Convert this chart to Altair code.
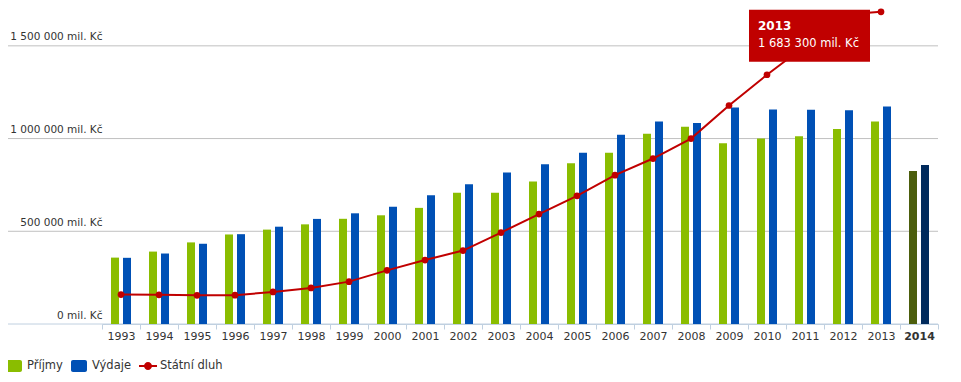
import altair as alt
import pandas as pd

# ---------------- data (mil. Kč) ----------------
years = [str(y) for y in range(1993, 2015)]
prijmy = [358000, 390500, 440000, 482800, 509000, 537400, 567300, 586200, 626200, 707600,
          707800, 767900, 866500, 923100, 1025900, 1063900, 974600, 1000000, 1012800, 1051400,
          1091900, 825000]
vydaje = [356900, 380100, 432700, 484400, 524700, 566700, 596900, 632300, 693900, 753800,
          816800, 861500, 922800, 1020600, 1092300, 1083900, 1167000, 1156800, 1155500, 1152400,
          1173100, 858000]
dluh_years = [str(y) for y in range(1993, 2014)]
dluh = [158800, 157300, 154400, 155200, 173100, 194700, 228400, 289300, 345000, 395900,
        493200, 592900, 691200, 802500, 892300, 999800, 1178200, 1344100, 1499400, 1667600,
        1683300]
series_names = ["Příjmy", "Výdaje"]
debt_name = "Státní dluh"
highlight_year = "2014"
y_ticks = [0, 500000, 1000000, 1500000]
y_tick_labels = ["0 mil. Kč", "500 000 mil. Kč", "1 000 000 mil. Kč", "1 500 000 mil. Kč"]
tooltip_year = "2013"
tooltip_value = 1683300
tooltip_text = "1 683 300 mil. Kč"

# ---------------- styles ----------------
GREEN, BLUE = "#8ABD00", "#0050B5"
GREEN_DARK, BLUE_DARK = "#4C5E0C", "#002A5C"
RED = "#C00000"
FONT = "DejaVu Sans"
TEXT = "#333333"

rows = []
for i, yr in enumerate(years):
    for name, vals in zip(series_names, [prijmy, vydaje]):
        key = name + (" " + highlight_year if yr == highlight_year else "")
        rows.append({"year": yr, "series": name, "key": key, "value": vals[i]})
bars_df = pd.DataFrame(rows)
debt_df = pd.DataFrame({"year": dluh_years, "value": dluh, "key": debt_name})
grid_df = pd.DataFrame({"value": y_ticks})
tip_df = pd.DataFrame({"year": [tooltip_year], "value": [tooltip_value],
                       "t1": [tooltip_year], "t2": [tooltip_text]})

label_expr = " : ".join(f"datum.value == {v} ? '{l}'" for v, l in zip(y_ticks, y_tick_labels)) + " : ''"

x_enc = alt.X(
    "year:N",
    scale=alt.Scale(domain=years, paddingInner=0, paddingOuter=0),
    axis=alt.Axis(
        title=None, labelAngle=0, tickBand="extent", domainColor="#C0D0E0",
        tickColor="#C0D0E0", tickSize=5, labelPadding=1, grid=False,
        labelFont=FONT, labelFontSize=11, labelColor=TEXT,
        labelFontWeight={"condition": {"test": f"datum.value == '{highlight_year}'", "value": "bold"},
                         "value": "normal"},
    ),
)
y_enc = alt.Y(
    "value:Q",
    scale=alt.Scale(domain=[0, 1704000], nice=False, zero=True),
    axis=alt.Axis(
        title=None, values=y_ticks, labelExpr=label_expr, labelAlign="right",
        labelBaseline="alphabetic", labelOffset=-6, labelPadding=0, ticks=False,
        domain=False, grid=False, labelFont=FONT, labelFontSize=10.5, labelColor=TEXT,
        labelOverlap=False, labelFlush=False,
    ),
)

grid = alt.Chart(grid_df).mark_rule(strokeWidth=1).encode(
    y=y_enc,
    x=alt.value(-102),
    x2=alt.value(836),
    color=alt.condition(alt.datum.value == 0, alt.value("#C0D0E0"), alt.value("#C0C0C0")),
)

square_path = ("M-0.75,-0.75 H0.75 A0.25,0.25 0 0 1 1,-0.5 V0.5 A0.25,0.25 0 0 1 0.75,0.75 "
               "H-0.75 A0.25,0.25 0 0 1 -1,0.5 V-0.5 A0.25,0.25 0 0 1 -0.75,-0.75 Z")
linedot_path = ("M-1.125,-0.125 H1.125 V0.125 H-1.125 Z "
                "M-0.5,0 A0.5,0.5 0 1 1 0.5,0 A0.5,0.5 0 1 1 -0.5,0 Z")

bars = alt.Chart(bars_df).mark_bar(opacity=1).encode(
    x=x_enc,
    y=y_enc,
    xOffset=alt.XOffset("series:N", scale=alt.Scale(domain=series_names, paddingInner=1 / 3, paddingOuter=0.75)),
    color=alt.Color(
        "key:N",
        scale=alt.Scale(domain=series_names + [n + " " + highlight_year for n in series_names],
                        range=[GREEN, BLUE, GREEN_DARK, BLUE_DARK]),
        legend=alt.Legend(
            title=None, orient="none", legendX=-96, legendY=350, direction="horizontal",
            values=series_names, symbolType=square_path, symbolSize=256, symbolStrokeWidth=0,
            symbolOpacity=1, labelFont=FONT, labelFontSize=11.5, labelColor=TEXT,
            labelOffset=5, columnPadding=8, padding=0,
        ),
    ),
)

line = alt.Chart(debt_df).mark_line(color=RED, strokeWidth=2).encode(x=x_enc, y=y_enc)

points = alt.Chart(debt_df).mark_point(filled=True, size=45, opacity=1).encode(
    x=x_enc,
    y=y_enc,
    fill=alt.Fill(
        "key:N",
        scale=alt.Scale(domain=[debt_name], range=[RED]),
        legend=alt.Legend(
            title=None, orient="none", legendX=38, legendY=350, direction="horizontal",
            symbolType=linedot_path, symbolSize=256, symbolStrokeWidth=0, symbolOpacity=1,
            labelFont=FONT, labelFontSize=11.5, labelColor=TEXT, labelOffset=4, padding=0,
        ),
    ),
)

tip_box = alt.Chart(tip_df).mark_rect(color=RED, width=121, height=52, xOffset=-71.5, yOffset=24, opacity=1).encode(
    x=x_enc, y=y_enc
)
tip_t1 = alt.Chart(tip_df).mark_text(align="left", baseline="alphabetic", dx=-123, dy=18,
                                     font=FONT, fontSize=12, fontWeight="bold", color="white").encode(
    x=x_enc, y=y_enc, text="t1:N"
)
tip_t2 = alt.Chart(tip_df).mark_text(align="left", baseline="alphabetic", dx=-123, dy=35,
                                     font=FONT, fontSize=11.5, color="white").encode(
    x=x_enc, y=y_enc, text="t2:N"
)

chart = alt.layer(grid, bars, line, points, tip_box, tip_t1, tip_t2).resolve_scale(
    color="independent", fill="independent"
).properties(
    width=836, height=316,
    padding={"left": 94, "top": 0, "right": 15, "bottom": 50},
    autosize=alt.AutoSizeParams(type="none"),
    background="white",
).configure_view(stroke=None)

chart.save("out.html", embed_options={"renderer": "svg", "actions": False})
